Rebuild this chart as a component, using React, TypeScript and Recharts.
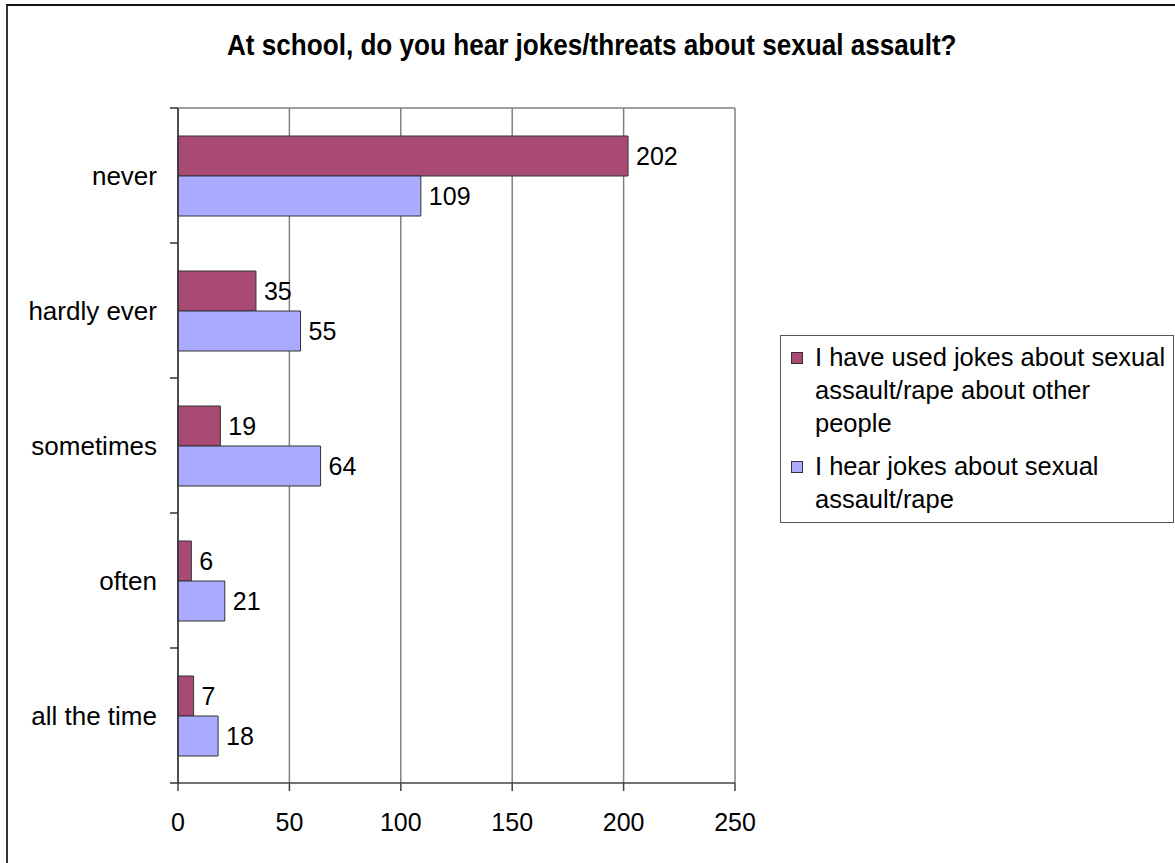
import React from 'react';
import { BarChart, Bar, XAxis, YAxis, CartesianGrid, Legend, LabelList } from 'recharts';

const categories = ['never', 'hardly ever', 'sometimes', 'often', 'all the time'];
const usedJokes = [202, 35, 19, 6, 7];
const hearJokes = [109, 55, 64, 21, 18];
const xTicks = [0, 50, 100, 150, 200, 250];
const seriesNames = [
  'I have used jokes about sexual assault/rape about other people',
  'I hear jokes about sexual assault/rape',
];
const legendLines = [
  ['I have used jokes about sexual', 'assault/rape about other', 'people'],
  ['I hear jokes about sexual', 'assault/rape'],
];
const colors = ['#A84A74', '#AAAAFF'];
const title = 'At school, do you hear jokes/threats about sexual assault?';

const data = categories.map((c, i) => ({ category: c, used: usedJokes[i], hear: hearJokes[i] }));

const FONT = '"Liberation Sans", Arial, sans-serif';

const CategoryTick = (props: any) => {
  const { x, y, payload, index } = props;
  const half = payload && typeof payload.offset === 'number' && payload.offset > 0 ? payload.offset : 67.5;
  return (
    <g>
      <text x={x - 21} y={y} textAnchor="end" dominantBaseline="central" fontSize={26} fill="#000" fontFamily={FONT}>
        {payload.value}
      </text>
      {index === 0 && <line x1={x - 8} x2={x} y1={y - half} y2={y - half} stroke="#333" strokeWidth={1.5} />}
      <line x1={x - 8} x2={x} y1={y + half} y2={y + half} stroke="#333" strokeWidth={1.5} />
    </g>
  );
};

const renderLegend = () => (
  <div
    style={{
      width: 394,
      height: 188,
      boxSizing: 'border-box',
      border: '1.5px solid #555',
      background: '#fff',
      fontFamily: FONT,
      fontSize: 25.5,
      color: '#000',
      paddingTop: 5,
      paddingLeft: 10,
    }}
  >
    {legendLines.map((lines, i) => (
      <div key={i} style={{ display: 'flex', alignItems: 'flex-start', marginTop: i === 0 ? 0 : 10 }}>
        <div
          style={{
            width: 10,
            height: 10,
            background: colors[i],
            border: '1px solid #333',
            marginTop: 11,
            marginRight: 12,
            flexShrink: 0,
          }}
        />
        <div style={{ lineHeight: '33px', whiteSpace: 'nowrap' }}>
          {lines.map((l, j) => (
            <div key={j}>{l}</div>
          ))}
        </div>
      </div>
    ))}
  </div>
);

export default function App() {
  return (
    <div style={{ position: 'absolute', left: 0, top: 0, width: 1175, height: 863, overflow: 'hidden', background: '#fff' }}>
      <div
        style={{
          position: 'absolute',
          left: 6,
          top: 4,
          width: 1400,
          height: 1100,
          borderLeft: '2px solid #333',
          borderTop: '2px solid #111',
        }}
      />
      <div
        style={{
          position: 'absolute',
          left: 227,
          top: 31,
          fontFamily: FONT,
          fontWeight: 'bold',
          fontSize: 29,
          lineHeight: '29px',
          color: '#000',
          whiteSpace: 'nowrap',
          transform: 'scaleX(0.9)',
          transformOrigin: 'left center',
        }}
      >
        {title}
      </div>
      <div style={{ position: 'absolute', left: 0, top: 0 }}>
        <BarChart
          width={1175}
          height={863}
          data={data}
          layout="vertical"
          margin={{ top: 108, right: 440, bottom: 30, left: 8 }}
          barCategoryGap={28}
          barGap={0}
        >
          <CartesianGrid
            vertical
            horizontal
            stroke="#808080"
            strokeWidth={1.5}
            horizontalCoordinatesGenerator={({ offset }: any) => [offset.top]}
          />
          <XAxis
            type="number"
            domain={[0, 250]}
            ticks={xTicks}
            height={50}
            tickSize={8}
            tickMargin={22}
            stroke="#444"
            strokeWidth={1.5}
            tick={{ fontSize: 25, fill: '#000', fontFamily: FONT }}
            axisLine={{ stroke: '#444', strokeWidth: 1.5 }}
            tickLine={{ stroke: '#444', strokeWidth: 1.5 }}
          />
          <YAxis
            type="category"
            dataKey="category"
            width={170}
            tickLine={false}
            tickSize={0}
            tickMargin={0}
            axisLine={{ stroke: '#333', strokeWidth: 1.5 }}
            tick={<CategoryTick />}
            interval={0}
          />
          <Legend
            layout="horizontal"
            verticalAlign="middle"
            align="center"
            content={renderLegend}
            wrapperStyle={{ left: 780, top: 335, width: 394, height: 188 }}
          />
          <Bar dataKey="used" name={seriesNames[0]} fill={colors[0]} stroke="#333" strokeWidth={1} isAnimationActive={false}>
            <LabelList dataKey="used" position="right" offset={8} fontSize={25} fill="#000" fontFamily={FONT} />
          </Bar>
          <Bar dataKey="hear" name={seriesNames[1]} fill={colors[1]} stroke="#333" strokeWidth={1} isAnimationActive={false}>
            <LabelList dataKey="hear" position="right" offset={8} fontSize={25} fill="#000" fontFamily={FONT} />
          </Bar>
        </BarChart>
      </div>
    </div>
  );
}
